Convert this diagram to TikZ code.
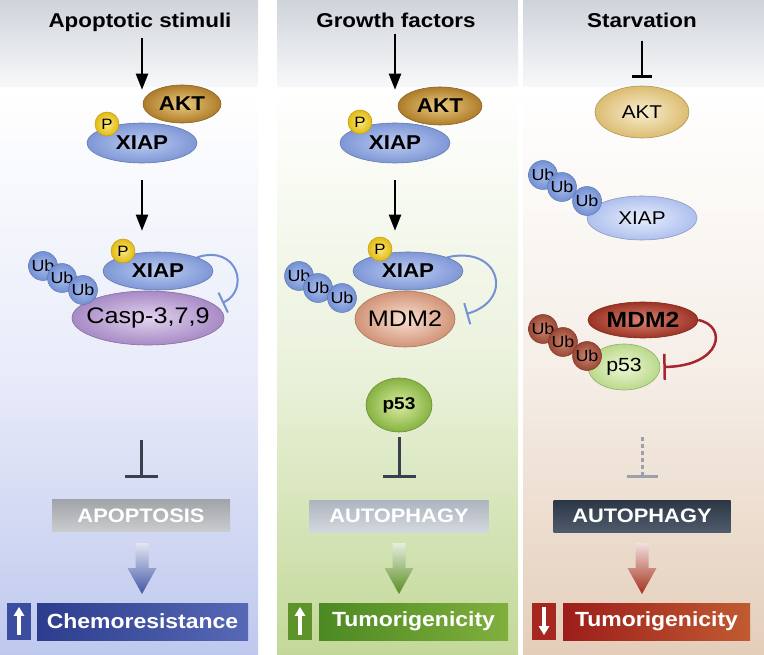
\documentclass[tikz,border=0pt]{standalone}
\usepackage{fontspec}
\setmainfont[FakeStretch=1.12]{Liberation Sans}
\usetikzlibrary{arrows.meta,calc,shapes.geometric}

\definecolor{bgtop}{HTML}{CFD4DB}
\definecolor{bgblue}{HTML}{BFC8EE}
\definecolor{bggreen}{HTML}{C3D898}
\definecolor{bgtan}{HTML}{E4CEBA}
\definecolor{xiapin}{HTML}{BCCBF0}
\definecolor{xiapout}{HTML}{7E97D6}
\definecolor{aktin}{HTML}{EBCB80}
\definecolor{aktout}{HTML}{AE7C2A}
\definecolor{phin}{HTML}{FAE97E}
\definecolor{phout}{HTML}{E2BA12}
\definecolor{caspin}{HTML}{E2D3EE}
\definecolor{caspout}{HTML}{A78AC6}
\definecolor{mdmin}{HTML}{F9E0D2}
\definecolor{mdmout}{HTML}{D29377}
\definecolor{pin}{HTML}{DAEDA0}
\definecolor{pout}{HTML}{86B242}
\definecolor{aktltin}{HTML}{F9EFD0}
\definecolor{aktltout}{HTML}{DCBC72}
\definecolor{xiapltin}{HTML}{E8EEFB}
\definecolor{xiapltout}{HTML}{AEC0EE}
\definecolor{mdmdkin}{HTML}{D98474}
\definecolor{mdmdkout}{HTML}{9C3325}
\definecolor{pltin}{HTML}{F0F7D8}
\definecolor{pltout}{HTML}{B9D98A}
\definecolor{ubbin}{HTML}{ABBFEC}
\definecolor{ubbout}{HTML}{7290D4}
\definecolor{ubrin}{HTML}{CC8672}
\definecolor{ubrout}{HTML}{994733}
\definecolor{inhblue}{HTML}{7391D3}
\definecolor{inhred}{HTML}{A5262E}
\definecolor{inhdk}{HTML}{38414D}
\definecolor{inhgr}{HTML}{9AA1AB}
\definecolor{arrA}{HTML}{4356A5}
\definecolor{arrB}{HTML}{588C22}
\definecolor{arrC}{HTML}{A3301D}
\definecolor{apopT}{HTML}{A1A4A8}
\definecolor{apopB}{HTML}{CACCCF}
\definecolor{autoTop}{HTML}{AEB4BF}
\definecolor{autoBot}{HTML}{D4D8DE}
\definecolor{autodkT}{HTML}{2C3746}
\definecolor{autodkB}{HTML}{4F5B6B}
\definecolor{chemL}{HTML}{2D3D8D}
\definecolor{chemR}{HTML}{5668B6}
\definecolor{chemS}{HTML}{3B4D9F}
\definecolor{tumgL}{HTML}{4C8922}
\definecolor{tumgR}{HTML}{80AF3D}
\definecolor{tumgS}{HTML}{5D9429}
\definecolor{tumrL}{HTML}{9D1D1B}
\definecolor{tumrR}{HTML}{C05B31}
\definecolor{tumrS}{HTML}{A62720}

\begin{document}
\begin{tikzpicture}[x=1pt,y=1pt,
  ttl/.style={anchor=base,font=\fontsize{20}{22}\selectfont\bfseries},
  prot/.style 2 args={ellipse,inner xsep=-20pt,inner ysep=-4pt,inner color=#1,outer color=#2,draw=#2!80!black,line width=.6pt},
  txtB/.style={font=\fontsize{20}{22}\selectfont\bfseries},
  txtR/.style={font=\fontsize{18.5}{20}\selectfont},
  txtL/.style={font=\fontsize{22.5}{24}\selectfont},
  txtLB/.style={font=\fontsize{22}{24}\selectfont\bfseries},
  phos/.style={circle,inner sep=0pt,minimum size=24pt,inner color=phin,outer color=phout,draw=phout!85!black,line width=.5pt,font=\fontsize{15}{15}\selectfont},
  ubb/.style={circle,inner sep=0pt,minimum size=29pt,inner color=ubbin,outer color=ubbout,draw=ubbout!85!black,line width=.5pt,font=\fontsize{16}{16}\selectfont},
  ubr/.style={ubb,inner color=ubrin,outer color=ubrout,draw=ubrout!85!black},
  arr/.style={line width=2.2pt,-{Triangle[length=16pt,width=12pt]}},
  inh/.style={line width=2pt,draw=inhblue,-{Bar[width=22pt]}},
  inhdark/.style={line width=3pt,draw=inhdk,-{Bar[width=33pt]}},
  labbox/.style={rectangle,inner sep=0pt,minimum height=32pt,text=white,font=\fontsize{19.5}{20}\selectfont\bfseries},
  resbox/.style={labbox,minimum height=37pt,font=\fontsize{20.5}{22}\selectfont\bfseries},
  signbox/.style={rectangle,inner sep=0pt,minimum width=24pt,minimum height=37pt},
  sign/.style={draw=white,line width=3.5pt,-{Triangle[length=9pt,width=10pt]}},
  bigarrow/.pic={\shade[top color=#1!15,bottom color=#1] (-6.5,0) -- (-6.5,-25) -- (-14.5,-25) -- (0,-51) -- (14.5,-25) -- (6.5,-25) -- (6.5,0) -- cycle;}
]
\useasboundingbox (0,0) rectangle (764,-655);
% backgrounds
\foreach \xa/\xb/\tint in {0/258/bgblue,277/518/bggreen,523/764/bgtan}{
  \shade[top color=bgtop,bottom color=bgtop!15] (\xa,0) rectangle (\xb,-88);
  \shade[top color=white,bottom color=\tint,middle color=\tint!35] (\xa,-88) rectangle (\xb,-655);
}

% left panel
\node[ttl] (titleA) at (140,-28) {Apoptotic stimuli};
\node[prot={xiapin}{xiapout},minimum width=110pt,minimum height=40pt,txtB] (xiapA) at (142,-143) {XIAP};
\node[prot={aktin}{aktout},minimum width=78pt,minimum height=38pt,txtB] (aktA) at (182,-104) {AKT};
\node[phos] (phA) at (107,-124) {P};
\node[prot={caspin}{caspout},minimum width=152pt,minimum height=54pt,txtL] (caspA) at (148,-318) {Casp-3,7,9};
\node[prot={xiapin}{xiapout},minimum width=110pt,minimum height=38pt,txtB] (xiapB) at (158,-271) {XIAP};
\foreach \x/\y [count=\i] in {43/-266,62/-278,83/-290}
  \node[ubb] (ubA\i) at (\x,\y) {Ub};
\node[phos] (phB) at (123,-251) {P};
\draw[arr,shorten <=2pt,shorten >=33pt] (titleA.south -| xiapA) -- (xiapA.north);
\draw[arr,shorten <=17pt,shorten >=21pt] (xiapA.south) -- (xiapA.south |- xiapB.north);
\draw[inh] (xiapB.north east) .. controls (238,-244) and (250,-290) .. ($(caspA.east)+(-2,15)$);
\coordinate (inhA) at (141,-440);
\node[labbox,minimum width=178pt,top color=apopT,bottom color=apopB] (apopBox) at (141,-515.5) {APOPTOSIS};
\draw[inhdark,shorten >=21.5pt] (inhA) -- (apopBox);
\pic at (142,-543) {bigarrow=arrA};
\node[signbox,fill=chemS] (upA) at (19,-621.5) {};
\draw[sign] ($(upA.south)+(0,5)$) -- ($(upA.north)+(0,-4)$);
\node[resbox,minimum width=211pt,left color=chemL,right color=chemR] (chemBox) at (142.5,-621.5) {Chemoresistance};

% middle panel
\node[ttl] (titleB) at (396,-28) {Growth factors};
\node[prot={xiapin}{xiapout},minimum width=110pt,minimum height=40pt,txtB] (xiapC) at (395,-143) {XIAP};
\node[prot={aktin}{aktout},minimum width=84pt,minimum height=38pt,txtB] (aktB) at (440,-106) {AKT};
\node[phos] (phC) at (360,-122) {P};
\node[prot={mdmin}{mdmout},minimum width=100pt,minimum height=56pt,txtL] (mdmB) at (405,-319) {MDM2};
\node[prot={xiapin}{xiapout},minimum width=110pt,minimum height=38pt,txtB] (xiapD) at (408,-271) {XIAP};
\foreach \x/\y [count=\i] in {299/-276,318/-288,342/-298}
  \node[ubb] (ubB\i) at (\x,\y) {Ub};
\node[phos] (phD) at (380,-249) {P};
\draw[arr,shorten <=2pt,shorten >=33pt] (titleB.south -| xiapC) -- (xiapC.north);
\draw[arr,shorten <=17pt,shorten >=21pt] (xiapC.south) -- (xiapC.south |- xiapD.north);
\draw[inh] (xiapD.north east) .. controls (500,-245) and (515,-300) .. ($(mdmB.east)+(11,5)$);
\node[prot={pin}{pout},minimum width=66pt,minimum height=54pt,font=\fontsize{17}{18}\selectfont\bfseries] (p53B) at (399,-405) {p53};
\node[labbox,minimum width=179pt,top color=autoTop,bottom color=autoBot] (autoB) at (399,-516) {AUTOPHAGY};
\draw[inhdark,shorten <=5pt,shorten >=22pt] (p53B) -- (autoB);
\pic at (399,-543) {bigarrow=arrB};
\node[signbox,fill=tumgS] (upB) at (300,-621.5) {};
\draw[sign] ($(upB.south)+(0,5)$) -- ($(upB.north)+(0,-4)$);
\node[resbox,minimum width=189pt,left color=tumgL,right color=tumgR] (tumB) at (413.5,-621.5) {Tumorigenicity};

% right panel
\node[ttl] (titleC) at (642,-28) {Starvation};
\node[prot={aktltin}{aktltout},minimum width=94pt,minimum height=52pt,txtR] (aktC) at (642,-112) {AKT};
\draw[line width=2.2pt,-{Bar[width=20pt]},shorten <=9pt,shorten >=8pt] (titleC.south -| aktC) -- (aktC.north);
\node[prot={xiapltin}{xiapltout},minimum width=110pt,minimum height=44pt,txtR] (xiapE) at (642,-218) {XIAP};
\foreach \x/\y [count=\i] in {543/-175,562/-187,587/-201}
  \node[ubb] (ubC\i) at (\x,\y) {Ub};
\node[prot={mdmdkin}{mdmdkout},minimum width=110pt,minimum height=36pt,txtLB] (mdmC) at (643,-320) {MDM2};
\node[prot={pltin}{pltout},minimum width=72pt,minimum height=46pt,font=\fontsize{19}{20}\selectfont] (p53C) at (624,-367) {p53};
\foreach \x/\y [count=\i] in {543/-329,563/-342,587/-356}
  \node[ubr] (ubD\i) at (\x,\y) {Ub};
\draw[line width=2.5pt,draw=inhred,-{Bar[width=26pt]}] (mdmC.east) .. controls (728,-326) and (722,-366) .. ($(p53C.east)+(3,0)$);
\coordinate (inhC) at (642,-437);
\node[labbox,minimum width=177pt,top color=autodkT,bottom color=autodkB] (autoC) at (642,-516) {AUTOPHAGY};
\draw[line width=3pt,draw=inhgr,dash pattern=on 4pt off 3pt,-{Bar[width=31pt]},shorten >=22pt] (inhC) -- (autoC);
\pic at (642,-543) {bigarrow=arrC};
\node[signbox,fill=tumrS] (downC) at (544,-621.5) {};
\draw[sign] ($(downC.north)+(0,-4)$) -- ($(downC.south)+(0,5)$);
\node[resbox,minimum width=187pt,left color=tumrL,right color=tumrR] (tumC) at (656.5,-621.5) {Tumorigenicity};
\end{tikzpicture}
\end{document}
